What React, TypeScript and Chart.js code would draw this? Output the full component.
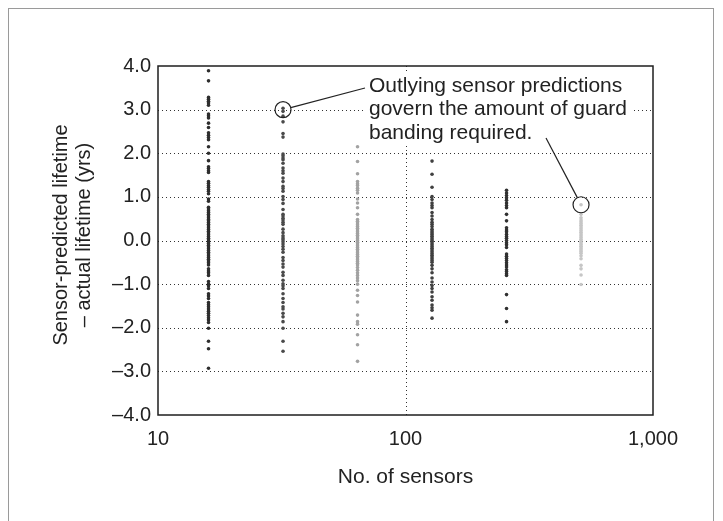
import React, { useEffect, useRef } from "react";
import { Chart, registerables } from "chart.js";

Chart.register(...registerables);

const sensorCounts = [16, 32, 64, 128, 256, 512];

const col16 = [3.89, 3.66, 3.28, 3.24, 3.19, 3.15, 3.10, 2.90, 2.86, 2.81, 2.69, 2.59, 2.47, 2.41, 2.36, 2.31, 2.15, 2.00, 1.83, 1.69, 1.65, 1.60, 1.56, 1.35, 1.31, 1.26, 1.22, 1.17, 1.13, 1.07, 0.95, 0.90, 0.76, 0.72, 0.68, 0.64, 0.60, 0.56, 0.52, 0.48, 0.45, 0.41, 0.37, 0.33, 0.29, 0.25, 0.21, 0.17, 0.13, 0.09, 0.05, 0.01, -0.03, -0.07, -0.11, -0.15, -0.19, -0.23, -0.27, -0.31, -0.35, -0.39, -0.43, -0.47, -0.51, -0.56, -0.65, -0.70, -0.74, -0.80, -0.94, -1.00, -1.04, -1.10, -1.22, -1.27, -1.33, -1.42, -1.47, -1.52, -1.57, -1.62, -1.67, -1.72, -1.77, -1.82, -1.88, -2.01, -2.31, -2.48, -2.93];
const col32 = [3.03, 2.96, 2.85, 2.72, 2.45, 2.37, 1.98, 1.94, 1.89, 1.85, 1.77, 1.66, 1.60, 1.54, 1.43, 1.35, 1.24, 1.19, 1.13, 1.01, 0.94, 0.85, 0.71, 0.60, 0.56, 0.51, 0.47, 0.42, 0.37, 0.26, 0.18, 0.11, 0.06, 0.02, -0.03, -0.08, -0.14, -0.20, -0.27, -0.39, -0.46, -0.54, -0.61, -0.73, -0.80, -0.91, -0.99, -1.04, -1.10, -1.22, -1.33, -1.42, -1.52, -1.57, -1.67, -1.75, -1.86, -2.01, -2.31, -2.54];
const col64 = [2.15, 1.81, 1.53, 1.35, 1.30, 1.26, 1.20, 1.15, 1.09, 0.95, 0.86, 0.75, 0.60, 0.48, 0.44, 0.40, 0.36, 0.32, 0.28, 0.24, 0.20, 0.16, 0.12, 0.08, 0.04, 0.00, -0.04, -0.08, -0.12, -0.16, -0.20, -0.24, -0.28, -0.32, -0.36, -0.40, -0.44, -0.48, -0.52, -0.56, -0.62, -0.68, -0.74, -0.80, -0.86, -0.92, -1.00, -1.14, -1.26, -1.41, -1.71, -1.86, -1.92, -2.16, -2.39, -2.77];
const col128 = [1.82, 1.52, 1.22, 1.01, 0.94, 0.86, 0.80, 0.75, 0.64, 0.56, 0.48, 0.42, 0.37, 0.32, 0.26, 0.22, 0.18, 0.14, 0.10, 0.06, 0.02, -0.02, -0.06, -0.10, -0.14, -0.18, -0.22, -0.26, -0.30, -0.34, -0.38, -0.42, -0.46, -0.50, -0.57, -0.65, -0.74, -0.86, -0.95, -1.03, -1.10, -1.18, -1.29, -1.37, -1.48, -1.54, -1.60, -1.78];
const col256 = [1.15, 1.09, 1.03, 0.98, 0.92, 0.86, 0.80, 0.75, 0.60, 0.45, 0.29, 0.24, 0.20, 0.14, 0.09, 0.05, 0.00, -0.05, -0.10, -0.16, -0.31, -0.36, -0.41, -0.46, -0.51, -0.56, -0.61, -0.67, -0.71, -0.76, -0.80, -1.24, -1.56, -1.86];
const col512 = [0.82, 0.60, 0.52, 0.47, 0.43, 0.39, 0.35, 0.31, 0.27, 0.23, 0.19, 0.15, 0.11, 0.07, 0.03, -0.01, -0.05, -0.09, -0.13, -0.17, -0.21, -0.25, -0.29, -0.35, -0.42, -0.57, -0.65, -0.79, -1.01];

const columns = [col16, col32, col64, col128, col256, col512];
const columnColors = ["#2e2e2e", "#4a4a4a", "#a2a2a2", "#404040", "#303030", "#c6c6c6"];

const xTickValues = [10, 100, 1000];
const xTickLabels = ["10", "100", "1,000"];
const xGridValues = [100];
const yGridValues = [-3, -2, -1, 0, 1, 2, 3];

const annotationLines = [
  "Outlying sensor predictions",
  "govern the amount of guard",
  "banding required.",
];
const outliers = [
  { x: 32, y: 3.0 },
  { x: 512, y: 0.82 },
];

const xTitle = "No. of sensors";
const yTitleLines = ["Sensor-predicted lifetime", "\u2013 actual lifetime (yrs)"];

const FAMILY = '"Liberation Sans", Arial, Helvetica, sans-serif';
const TEXT = "#222";

const overlay = {
  id: "overlay",
  beforeDatasetsDraw(chart: any) {
    const { ctx, chartArea: a, scales } = chart;
    const x = scales.x;
    const y = scales.y;
    ctx.save();
    ctx.strokeStyle = "#333";
    ctx.lineWidth = 1;
    ctx.setLineDash([1, 3]);
    for (const v of yGridValues) {
      const py = Math.round(y.getPixelForValue(v)) + 0.5;
      ctx.beginPath();
      ctx.moveTo(a.left, py);
      ctx.lineTo(a.right, py);
      ctx.stroke();
    }
    for (const v of xGridValues) {
      const px = Math.round(x.getPixelForValue(v)) + 0.5;
      ctx.beginPath();
      ctx.moveTo(px, a.top);
      ctx.lineTo(px, a.bottom);
      ctx.stroke();
    }
    ctx.restore();
  },
  afterDatasetsDraw(chart: any) {
    const { ctx, chartArea: a, scales } = chart;
    const x = scales.x;
    const y = scales.y;
    ctx.save();
    ctx.fillStyle = "#fff";
    ctx.fillRect(364, 73, 269, 73);
    ctx.font = "21px " + FAMILY;
    ctx.fillStyle = TEXT;
    ctx.textAlign = "left";
    ctx.textBaseline = "middle";
    annotationLines.forEach((t, i) => ctx.fillText(t, 369, 86 + i * 23.5));

    const r = 8;
    const c1 = { x: x.getPixelForValue(outliers[0].x), y: y.getPixelForValue(outliers[0].y) };
    const c2 = { x: x.getPixelForValue(outliers[1].x), y: y.getPixelForValue(outliers[1].y) };
    ctx.strokeStyle = "#222";
    ctx.lineWidth = 1.2;
    ctx.setLineDash([]);
    for (const c of [c1, c2]) {
      ctx.beginPath();
      ctx.arc(c.x, c.y, r, 0, Math.PI * 2);
      ctx.stroke();
    }
    const leader = (c: any, tx: number, ty: number) => {
      const dx = tx - c.x, dy = ty - c.y;
      const d = Math.hypot(dx, dy);
      ctx.beginPath();
      ctx.moveTo(c.x + (dx / d) * r, c.y + (dy / d) * r);
      ctx.lineTo(tx, ty);
      ctx.stroke();
    };
    leader(c1, 365, 88);
    leader(c2, 546, 138);

    ctx.strokeStyle = "#1e1e1e";
    ctx.lineWidth = 1.5;
    ctx.strokeRect(a.left, a.top, a.right - a.left, a.bottom - a.top);
    ctx.restore();
  },
  afterDraw(chart: any) {
    const { ctx, chartArea: a } = chart;
    ctx.save();
    ctx.fillStyle = TEXT;
    ctx.textAlign = "center";
    ctx.textBaseline = "middle";
    ctx.font = "21px " + FAMILY;
    ctx.fillText(xTitle, (a.left + a.right) / 2, 477);
    ctx.font = "20px " + FAMILY;
    ctx.translate(61, 235);
    ctx.rotate(-Math.PI / 2);
    ctx.fillText(yTitleLines[0], 0, 0);
    ctx.fillText(yTitleLines[1], 0, 23.5);
    ctx.restore();
  },
};

export default function App() {
  const ref = useRef<HTMLCanvasElement | null>(null);
  useEffect(() => {
    document.documentElement.style.overflow = "hidden";
    const canvas = ref.current;
    if (!canvas) return;
    const datasets = columns.map((vals, i) => ({
      label: String(sensorCounts[i]),
      data: vals.map((v) => ({ x: sensorCounts[i], y: v })),
      backgroundColor: columnColors[i],
      borderColor: columnColors[i],
      borderWidth: 0,
      pointRadius: 1.8,
      pointStyle: "circle",
    }));
    const chart = new Chart(canvas, {
      type: "scatter",
      data: { datasets },
      options: {
        responsive: false,
        animation: false,
        devicePixelRatio: 1,
        layout: { padding: { left: 0, right: 70, top: 66, bottom: 0 } },
        plugins: { legend: { display: false }, tooltip: { enabled: false } },
        scales: {
          x: {
            type: "logarithmic",
            min: 10,
            max: 1000,
            afterBuildTicks: (s: any) => {
              s.ticks = xTickValues.map((v) => ({ value: v }));
            },
            afterFit: (s: any) => {
              s.height = 106;
            },
            grid: { display: false, drawTicks: false },
            border: { display: false },
            ticks: {
              autoSkip: false,
              maxRotation: 0,
              padding: 12,
              color: TEXT,
              font: { family: FAMILY, size: 20 },
              callback: (v: any) => {
                const i = xTickValues.indexOf(Number(v));
                return i >= 0 ? xTickLabels[i] : "";
              },
            },
          },
          y: {
            type: "linear",
            min: -4,
            max: 4,
            afterFit: (s: any) => {
              s.width = 158;
            },
            grid: { display: false, drawTicks: false },
            border: { display: false },
            ticks: {
              stepSize: 1,
              padding: 7,
              color: TEXT,
              font: { family: FAMILY, size: 20 },
              callback: (v: any) => {
                const n = Number(v);
                return (n < 0 ? "\u2013" : "") + Math.abs(n).toFixed(1);
              },
            },
          },
        },
      },
      plugins: [overlay],
    } as any);
    return () => chart.destroy();
  }, []);
  return (
    <>
      <div
        style={{
          position: "fixed",
          left: 8,
          top: 8,
          width: 706,
          height: 600,
          border: "1px solid #9a9a9a",
          boxSizing: "border-box",
        }}
      />
      <canvas
        ref={ref}
        width={723}
        height={521}
        style={{ position: "fixed", left: 0, top: 0, width: 723, height: 521 }}
      />
    </>
  );
}
